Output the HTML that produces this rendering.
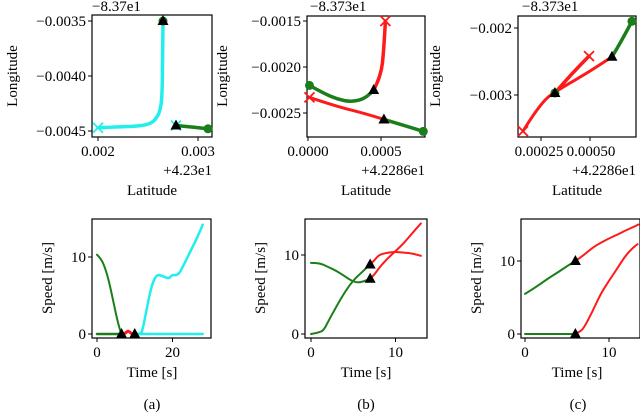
<!DOCTYPE html>
<html><head><meta charset="utf-8"><style>
body{margin:0;background:#fff}
svg{display:block;font-family:"Liberation Serif","DejaVu Serif",serif}
</style></head><body>
<svg id="c" width="640" height="414" viewBox="0 0 640 414"></svg>
<script>
// ---- data ----
const aCyanLat=[0.00265,0.002645,0.00264,0.00262,0.00258,0.00253,0.00245,0.0023,0.0020];
const aCyanLon=[-0.0035,-0.0039,-0.0042,-0.00432,-0.00439,-0.00443,-0.00445,-0.00446,-0.00447];
const aGreenLat=[0.00278,0.0029,0.0031];const aGreenLon=[-0.00445,-0.00446,-0.00448];
const bGreen1Lat=[0.00001,0.0001,0.0002,0.0003,0.0004,0.00045];const bGreen1Lon=[-0.0022,-0.00228,-0.00235,-0.00238,-0.00234,-0.00225];
const bRed1Lat=[0.00045,0.0005,0.00052,0.00053];const bRed1Lon=[-0.00225,-0.0021,-0.0018,-0.0015];
const bRed2Lat=[0.00001,0.0002,0.0004,0.00052];const bRed2Lon=[-0.00233,-0.00243,-0.00251,-0.00257];
const bGreen2Lat=[0.00052,0.00065,0.00079];const bGreen2Lon=[-0.00257,-0.00263,-0.0027];
const cGreen1Lat=[0.000612,0.00066,0.000714];const cGreen1Lon=[-0.00243,-0.0022,-0.0019];
const cRed1Lat=[0.000612,0.0005,0.00035,0.00025,0.000158];const cRed1Lon=[-0.00243,-0.00265,-0.0029,-0.0031,-0.00354];
const cRed2Lat=[0.000321,0.0004,0.000495];const cRed2Lon=[-0.00297,-0.0027,-0.00242];
const saGreenT=[0,1,2,3,4,5,6,6.5];const saGreenV=[10.3,9.8,8.8,7.2,5,2.6,0.6,0];
const saFlatT=[0,6.5];const saFlatV=[0,0];
const saRedT=[7.5,8,8.5,9];const saRedV=[0.1,0.35,0.35,0.1];
const saCyan1T=[10,28];const saCyan1V=[0,0];
const saCyan2T=[10,11.5,12,13,14,15,16,17,18,19,20,21,22,23,24,25,26,27,28];
const saCyan2V=[0,0,0.4,2.8,5.3,7,7.7,7.6,7.4,7.2,7.7,7.6,8,9,10,11,12,13,14.2];
const sbG1T=[0,1,2,3,4,5,6,7];const sbG1V=[9,9,8.5,8,7.3,6.6,6.5,7];
const sbR1T=[7,7.5,8,9,10,11,12,13];const sbR1V=[7,7.5,8.3,9.5,10.5,11.5,12.8,14];
const sbG2T=[0,1,1.5,2,3,4,5,6,7];const sbG2V=[0,0.2,0.5,1.5,3.5,5.3,6.8,7.8,8.8];
const sbR2T=[7,7.5,8,9,10,11,12,13];const sbR2V=[8.8,9.3,10,10.3,10.4,10.3,10.2,9.9];
const scG1T=[0,1,2,3,4,5,6];const scG1V=[5.5,6.2,7,7.8,8.5,9.3,10];
const scR1T=[6,7,8,9,10,11,12,13,13.5];const scR1V=[10,10.8,11.8,12.5,13.1,13.6,14.2,14.7,15];
const scG2T=[0,6];const scG2V=[0,0];
const scR2T=[6,6.5,7,8,9,10,11,12,13,13.4];const scR2V=[0,0.3,0.8,3,5.5,7.3,9,10.8,12,12.3];
const GREEN="#1a7f1a",RED="#ff1a1a",CYAN="#22eeee";
const FS=15;
// ---- drawing ----
const NS="http://www.w3.org/2000/svg",svg=document.getElementById('c');
function el(t,a,p){const e=document.createElementNS(NS,t);for(const k in a)e.setAttribute(k,a[k]);(p||svg).appendChild(e);return e;}
function txt(x,y,s,anchor,size,rot){const e=el('text',{x:x,y:y,'font-size':size||FS,'text-anchor':anchor||'middle',fill:'#000'});if(rot)e.setAttribute('transform','rotate(-90 '+x+' '+y+')');e.textContent=s;return e;}
function axes(name,x0,x1,y0,y1,xs,ys,xt,xl,yt,yl){
 const g=el('g',{});
 
 
 el('rect',{x:x0,y:y0,width:x1-x0,height:y1-y0,fill:'none',stroke:'#000','stroke-width':1.2},g);
 xt.forEach((v,i)=>{const X=xs(v);el('line',{x1:X,x2:X,y1:y1,y2:y1+4,stroke:'#000'},g);const t=txt(X,y1+19,xl[i]);g.appendChild(t);});
 yt.forEach((v,i)=>{const Y=ys(v);el('line',{x1:x0-4,x2:x0,y1:Y,y2:Y,stroke:'#000'},g);const t=txt(x0-6,Y+5,yl[i],'end');g.appendChild(t);});
 return g;}
function line(g,xs,ys,X,Y,c,w,name){
 const P=X.map((v,i)=>[xs(v),ys(Y[i])]);
 let d='M'+P[0][0].toFixed(1)+' '+P[0][1].toFixed(1);
 if(P.length<3){d+='L'+P[1][0].toFixed(1)+' '+P[1][1].toFixed(1);}
 else{for(let i=1;i<P.length-1;i++){const mx=(P[i][0]+P[i+1][0])/2,my=(P[i][1]+P[i+1][1])/2;d+='Q'+P[i][0].toFixed(1)+' '+P[i][1].toFixed(1)+' '+(i==P.length-2?P[i+1][0]:mx).toFixed(1)+' '+(i==P.length-2?P[i+1][1]:my).toFixed(1);}}
 const p=el('path',{d:d,fill:'none',stroke:c,'stroke-width':w,'stroke-linecap':'round','stroke-linejoin':'round'},g);}
function tri(g,x,y){const p=el('path',{d:`M${x} ${y-6}L${x+5.5} ${y+4}L${x-5.5} ${y+4}Z`,fill:'#000'},g);}
function dot(g,x,y,c){const p=el('circle',{cx:x,cy:y,r:4.5,fill:c},g);}
function cross(g,x,y,c){const p=el('path',{d:`M${x-5} ${y-5}L${x+5} ${y+5}M${x-5} ${y+5}L${x+5} ${y-5}`,stroke:c,'stroke-width':1.8},g);}
function lin(d0,d1,p0,p1){return v=>p0+(v-d0)*(p1-p0)/(d1-d0);}
function last(a){return a[a.length-1];}

// Top (a)
{const xs=lin(0.002,0.003,98,198),ys=lin(-0.0035,-0.0045,21,131);
 const g=axes('map-a',92,212,15,137,xs,ys,[0.002,0.003],['0.002','0.003'],[-0.0035,-0.004,-0.0045],['−0.0035','−0.0040','−0.0045']);
 line(g,xs,ys,aCyanLat,aCyanLon,CYAN,3.5,'cyan-track');line(g,xs,ys,aGreenLat,aGreenLon,GREEN,3.5,'green-track');
 dot(g,xs(aCyanLat[0]),ys(aCyanLon[0]),GREEN);tri(g,xs(aCyanLat[0]),ys(aCyanLon[0]));
 cross(g,xs(last(aCyanLat)),ys(last(aCyanLon)),CYAN);cross(g,xs(aGreenLat[0]),ys(aGreenLon[0]),CYAN);tri(g,xs(aGreenLat[0]),ys(aGreenLon[0]));
 dot(g,xs(last(aGreenLat)),ys(last(aGreenLon)),GREEN);
 g.appendChild(txt(92,11,'−8.37e1','start'));g.appendChild(txt(212,175,'+4.23e1','end'));g.appendChild(txt(152,195,'Latitude'));
 g.appendChild(txt(17,76,'Longitude','middle',FS,true));}
// Top (b)
{const xs=lin(0,0.0005,308,381),ys=lin(-0.0015,-0.002,21,67);
 const g=axes('map-b',307,425,16,137,xs,ys,[0,0.0005],['0.0000','0.0005'],[-0.0015,-0.002,-0.0025],['−0.0015','−0.0020','−0.0025']);
 line(g,xs,ys,bGreen1Lat,bGreen1Lon,GREEN,3.5,'green-track-1');line(g,xs,ys,bRed1Lat,bRed1Lon,RED,3.5,'red-track-1');
 line(g,xs,ys,bRed2Lat,bRed2Lon,RED,3,'red-track-2');line(g,xs,ys,bGreen2Lat,bGreen2Lon,GREEN,3.5,'green-track-2');
 dot(g,xs(bGreen1Lat[0]),ys(bGreen1Lon[0]),GREEN);tri(g,xs(bRed1Lat[0]),ys(bRed1Lon[0]));cross(g,xs(last(bRed1Lat)),ys(last(bRed1Lon)),RED);
 cross(g,xs(bRed2Lat[0]),ys(bRed2Lon[0]),RED);tri(g,xs(bGreen2Lat[0]),ys(bGreen2Lon[0]));dot(g,xs(last(bGreen2Lat)),ys(last(bGreen2Lon)),GREEN);
 g.appendChild(txt(310,11,'−8.373e1','start'));g.appendChild(txt(425,175,'+4.2286e1','end'));g.appendChild(txt(366,195,'Latitude'));
 g.appendChild(txt(227,76,'Longitude','middle',FS,true));}
// Top (c)
{const xs=lin(0.00025,0.0005,541,590),ys=lin(-0.002,-0.003,28,95);
 const g=axes('map-c',518,636,16,137,xs,ys,[0.00025,0.0005],['0.00025','0.00050'],[-0.002,-0.003],['−0.002','−0.003']);
 g.querySelectorAll('text')[0].setAttribute('x',539);g.querySelectorAll('text')[1].setAttribute('x',591);
 line(g,xs,ys,cGreen1Lat,cGreen1Lon,GREEN,3.5,'green-track-1');line(g,xs,ys,cRed1Lat,cRed1Lon,RED,3,'red-track-1');
 line(g,xs,ys,cRed2Lat,cRed2Lon,RED,3.5,'red-track-2');
 dot(g,xs(last(cGreen1Lat)),ys(last(cGreen1Lon)),GREEN);tri(g,xs(cGreen1Lat[0]),ys(cGreen1Lon[0]));cross(g,xs(last(cRed1Lat)),ys(last(cRed1Lon)),RED);
 dot(g,xs(cRed2Lat[0]),ys(cRed2Lon[0]),GREEN);tri(g,xs(cRed2Lat[0]),ys(cRed2Lon[0]));cross(g,xs(last(cRed2Lat)),ys(last(cRed2Lon)),RED);
 g.appendChild(txt(522,11,'−8.373e1','start'));g.appendChild(txt(636,175,'+4.2286e1','end'));g.appendChild(txt(577,195,'Latitude'));
 g.appendChild(txt(440,76,'Longitude','middle',FS,true));}
// Bottom (a)
{const xs=lin(0,20,97,172.5),ys=lin(0,10,334,257);
 const g=axes('speed-a',92,211,219,338,xs,ys,[0,20],['0','20'],[0,10],['0','10']);
 line(g,xs,ys,saCyan1T,saCyan1V,CYAN,2.5,'cyan-speed-flat');line(g,xs,ys,saCyan2T,saCyan2V,CYAN,2.5,'cyan-speed');
 line(g,xs,ys,saFlatT,saFlatV,GREEN,2.5,'green-speed-flat');line(g,xs,ys,saGreenT,saGreenV,GREEN,2,'green-speed');
 line(g,xs,ys,saRedT,saRedV,RED,3,'red-speed');
 tri(g,xs(6.5),ys(0));tri(g,xs(10),ys(0));
 g.appendChild(txt(152,377,'Time [s]'));g.appendChild(txt(52,278,'Speed [m/s]','middle',FS,true));g.appendChild(txt(152,409,'(a)'));}
// Bottom (b)
{const xs=lin(0,10,311,395.5),ys=lin(0,10,334,255);
 const g=axes('speed-b',305,427,219,338,xs,ys,[0,10],['0','10'],[0,10],['0','10']);
 line(g,xs,ys,sbG1T,sbG1V,GREEN,2,'green-speed-1');line(g,xs,ys,sbR1T,sbR1V,RED,2,'red-speed-1');
 line(g,xs,ys,sbG2T,sbG2V,GREEN,2,'green-speed-2');line(g,xs,ys,sbR2T,sbR2V,RED,2,'red-speed-2');
 tri(g,xs(7),ys(last(sbG1V)));tri(g,xs(7),ys(last(sbG2V)));
 g.appendChild(txt(366,377,'Time [s]'));g.appendChild(txt(265,278,'Speed [m/s]','middle',FS,true));g.appendChild(txt(366,409,'(b)'));}
// Bottom (c)
{const xs=lin(0,10,525,609),ys=lin(0,10,334,261);
 const g=axes('speed-c',521,640,219,338,xs,ys,[0,10],['0','10'],[0,10],['0','10']);
 line(g,xs,ys,scG1T,scG1V,GREEN,2,'green-speed-1');line(g,xs,ys,scR1T,scR1V,RED,2,'red-speed-1');
 line(g,xs,ys,scG2T,scG2V,GREEN,2,'green-speed-2');line(g,xs,ys,scR2T,scR2V,RED,2,'red-speed-2');
 tri(g,xs(6),ys(last(scG1V)));tri(g,xs(6),ys(0));
 g.appendChild(txt(577,377,'Time [s]'));g.appendChild(txt(481,278,'Speed [m/s]','middle',FS,true));g.appendChild(txt(578,409,'(c)'));}
</script>
</body></html>
